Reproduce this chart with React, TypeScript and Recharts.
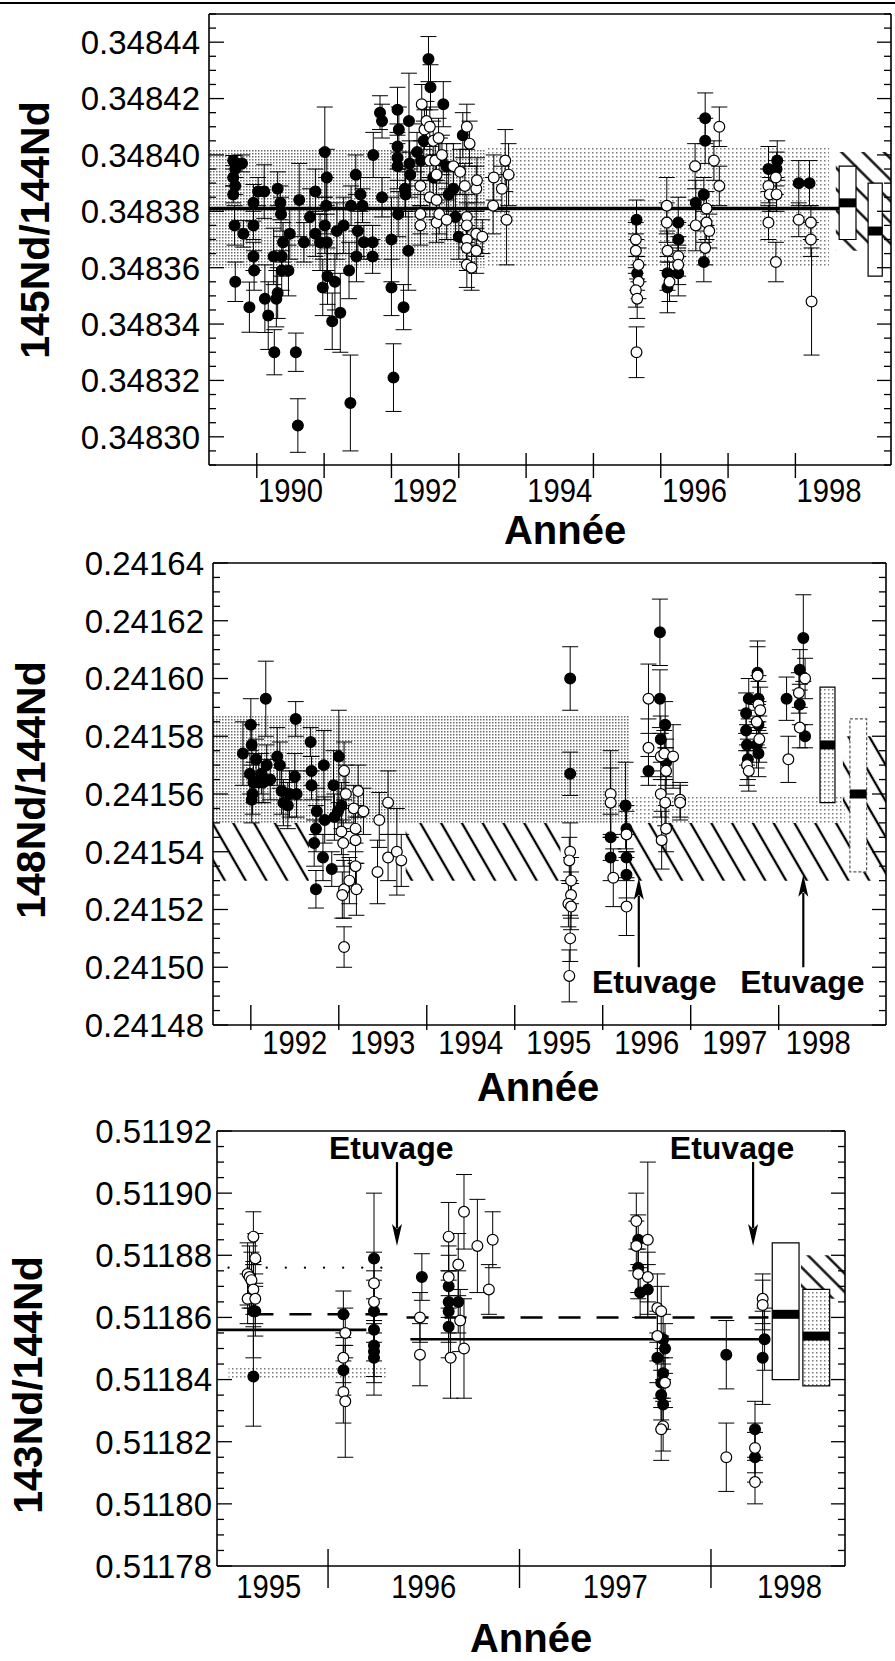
import React from "react";
import {
  ComposedChart,
  Scatter,
  ErrorBar,
  XAxis,
  YAxis,
  ReferenceArea,
  ReferenceLine,
  ReferenceDot,
} from "recharts";

const FONT = "'Liberation Sans', Arial, Helvetica, sans-serif";

type Pt = [number, number, number]; // [year, ratio, error]

// ---------- panel 1 : 145Nd/144Nd ----------
const p1Filled: Pt[] = [
  [1989.65, 0.348398, 0.0000018], [1989.68, 0.348395, 0.000003], [1989.65, 0.348392, 0.000003],
  [1989.68, 0.348389, 0.000003], [1989.65, 0.348386, 0.000003], [1989.78, 0.348397, 0.000003],
  [1989.67, 0.348375, 0.000007], [1989.68, 0.348355, 0.000007], [1989.8, 0.348372, 0.0000047],
  [1989.89, 0.348346, 0.0000089], [1989.95, 0.348383, 0.0000065], [1989.95, 0.348375, 0.000005],
  [1989.95, 0.348364, 0.000005], [1989.96, 0.348359, 0.000007], [1990.02, 0.348387, 0.000005],
  [1990.11, 0.348387, 0.0000095], [1990.12, 0.348349, 0.000012], [1990.17, 0.348343, 0.000012],
  [1990.25, 0.348364, 0.00001], [1990.26, 0.34833, 0.000008], [1990.29, 0.348349, 0.00001],
  [1990.31, 0.348351, 0.000009], [1990.31, 0.348388, 0.000006], [1990.35, 0.348383, 0.000006],
  [1990.36, 0.348379, 0.000006], [1990.39, 0.348369, 0.000007], [1990.37, 0.348364, 0.000007],
  [1990.37, 0.348359, 0.000007], [1990.47, 0.348359, 0.000009], [1990.49, 0.348372, 0.000009],
  [1990.58, 0.34833, 0.0000068], [1990.61, 0.348304, 0.0000095], [1990.63, 0.348384, 0.000013],
  [1990.7, 0.348369, 0.000007], [1990.79, 0.348378, 0.00001], [1990.87, 0.348387, 0.000008],
  [1990.87, 0.348372, 0.000008], [1990.94, 0.348369, 0.00001], [1990.98, 0.348353, 0.00001],
  [1991.01, 0.348401, 0.000016], [1991.04, 0.348392, 0.00001], [1991.03, 0.348382, 0.00001],
  [1991.01, 0.348375, 0.00001], [1991.04, 0.348369, 0.00001], [1991.05, 0.348357, 0.00001],
  [1991.12, 0.348341, 0.00001], [1991.16, 0.348355, 0.00001], [1991.19, 0.348373, 0.00001],
  [1991.24, 0.348344, 0.000014], [1991.29, 0.348375, 0.00001], [1991.37, 0.348359, 0.00001],
  [1991.39, 0.348312, 0.000017], [1991.4, 0.348382, 0.000007], [1991.47, 0.348393, 0.000007],
  [1991.48, 0.348364, 0.000009], [1991.5, 0.348373, 0.000009], [1991.54, 0.348386, 0.000006],
  [1991.57, 0.348382, 0.000006], [1991.59, 0.348369, 0.000006], [1991.72, 0.348369, 0.000006],
  [1991.72, 0.348364, 0.000006], [1991.73, 0.3484, 0.000008], [1991.86, 0.348385, 0.000007],
  [1991.83, 0.348415, 0.000006], [1991.86, 0.348412, 0.000006], [1992.0, 0.34837, 0.000015],
  [1992.0, 0.348353, 0.00001], [1992.03, 0.348321, 0.000012], [1992.09, 0.348416, 0.000008],
  [1992.11, 0.348409, 0.000008], [1992.09, 0.348403, 0.000008], [1992.09, 0.348399, 0.000008],
  [1992.09, 0.348396, 0.000008], [1992.1, 0.348379, 0.000008], [1992.18, 0.348346, 0.000008],
  [1992.25, 0.348366, 0.000014], [1992.26, 0.348412, 0.000017], [1992.27, 0.348397, 0.000008],
  [1992.28, 0.348393, 0.000008], [1992.2, 0.348388, 0.000008], [1992.21, 0.348386, 0.000008],
  [1992.38, 0.348401, 0.000007], [1992.44, 0.348398, 0.000007], [1992.48, 0.348405, 0.000007],
  [1992.55, 0.348434, 0.000008], [1992.58, 0.348424, 0.000008], [1992.77, 0.348418, 0.000008],
  [1992.62, 0.348392, 0.000008], [1992.72, 0.348398, 0.000008], [1992.82, 0.348396, 0.000008],
  [1992.85, 0.348386, 0.000008], [1992.95, 0.348378, 0.000008], [1993.0, 0.348371, 0.000008],
  [1993.06, 0.348407, 0.000008], [1992.92, 0.348388, 0.000008],
  [1995.64, 0.348377, 0.000007], [1995.65, 0.348358, 0.000006], [1996.1, 0.348358, 0.000006],
  [1996.1, 0.348353, 0.000009], [1996.26, 0.348376, 0.000009], [1996.26, 0.34837, 0.000006],
  [1996.26, 0.348358, 0.000008], [1996.52, 0.348383, 0.000008], [1996.66, 0.348413, 0.000009],
  [1996.66, 0.348405, 0.000008], [1996.64, 0.348386, 0.000006], [1996.64, 0.348362, 0.000007],
  [1997.6, 0.348395, 0.000008], [1997.73, 0.348398, 0.000007], [1997.72, 0.348395, 0.000006],
  [1998.05, 0.34839, 0.000008], [1998.21, 0.34839, 0.000008],
];
const p1Open: Pt[] = [
  [1992.43, 0.348389, 0.000007], [1992.45, 0.348418, 0.000007], [1992.49, 0.348409, 0.000007],
  [1992.52, 0.348412, 0.000007], [1992.57, 0.34841, 0.000007], [1992.62, 0.348405, 0.000007],
  [1992.7, 0.348406, 0.000007], [1992.57, 0.348398, 0.000007], [1992.65, 0.348398, 0.000007],
  [1992.67, 0.348393, 0.000007], [1992.75, 0.3484, 0.000007], [1992.43, 0.348379, 0.000007],
  [1992.43, 0.348375, 0.000007], [1992.57, 0.348385, 0.000007], [1992.67, 0.348384, 0.000007],
  [1992.67, 0.348376, 0.000007], [1992.71, 0.348379, 0.000007], [1992.82, 0.348377, 0.000007],
  [1992.92, 0.348396, 0.000008], [1993.02, 0.348394, 0.000008], [1993.12, 0.34841, 0.000008],
  [1993.16, 0.348404, 0.000008], [1993.09, 0.348389, 0.000008], [1993.12, 0.348378, 0.000008],
  [1993.12, 0.348375, 0.000008], [1993.12, 0.34837, 0.000008], [1993.12, 0.348367, 0.000008],
  [1993.26, 0.348372, 0.000008], [1993.26, 0.348366, 0.000008], [1993.12, 0.348361, 0.000008],
  [1993.19, 0.34836, 0.000008], [1993.26, 0.348388, 0.000008], [1993.27, 0.348391, 0.000008],
  [1993.35, 0.348371, 0.000006], [1993.52, 0.348392, 0.000008], [1993.51, 0.348382, 0.00001],
  [1993.64, 0.348388, 0.000008], [1993.69, 0.348398, 0.000011], [1993.74, 0.348393, 0.000011],
  [1993.71, 0.348377, 0.000016],
  [1995.63, 0.34837, 0.000006], [1995.63, 0.348366, 0.000006], [1995.67, 0.348361, 0.000006],
  [1995.67, 0.348355, 0.000006], [1995.63, 0.348352, 0.000006], [1995.65, 0.348349, 0.000007],
  [1995.64, 0.34833, 0.000009], [1996.09, 0.348382, 0.00001], [1996.09, 0.348376, 0.000007],
  [1996.1, 0.348366, 0.000007], [1996.13, 0.348355, 0.000007], [1996.26, 0.348364, 0.000007],
  [1996.26, 0.348361, 0.000007], [1996.51, 0.348396, 0.000008], [1996.52, 0.348375, 0.000009],
  [1996.68, 0.348381, 0.000006], [1996.68, 0.348376, 0.000006], [1996.72, 0.348373, 0.000006],
  [1996.66, 0.348367, 0.000006], [1996.79, 0.348398, 0.000007], [1996.87, 0.348389, 0.000007],
  [1996.87, 0.34841, 0.000007], [1997.6, 0.348389, 0.000006], [1997.62, 0.348386, 0.000006],
  [1997.71, 0.348392, 0.000006], [1997.72, 0.348386, 0.000006], [1997.6, 0.348376, 0.000006],
  [1997.71, 0.348362, 0.000007], [1998.05, 0.348377, 0.000006], [1998.23, 0.348376, 0.000006],
  [1998.23, 0.34837, 0.000006], [1998.24, 0.348348, 0.000019],
];
const p1Majors = [0.3483, 0.34832, 0.34834, 0.34836, 0.34838, 0.3484, 0.34842, 0.34844];
const p1Marks = [1990, 1991, 1992, 1993, 1994, 1995, 1996, 1997, 1998];
const p1Labels = [
  { text: "1990", at: 1990.5 }, { text: "1992", at: 1992.5 }, { text: "1994", at: 1994.5 },
  { text: "1996", at: 1996.5 }, { text: "1998", at: 1998.5 },
];
const p1Mean = { from: 1989.29, to: 1998.65, y: 0.348381 };
const p1Bands = [
  { x1: 1989.29, x2: 1993.4, y1: 0.34836, y2: 0.348402, dense: true },
  { x1: 1993.4, x2: 1998.5, y1: 0.34836, y2: 0.348403, dense: false },
];
const p1Hatch = [{ x1: 1998.6, x2: 1999.42, y1: 0.348366, y2: 0.348401 }];
const p1Boxes = [
  { x1: 1998.65, x2: 1998.9, y1: 0.34837, y2: 0.348396, mid: 0.348383, kind: "white" },
  { x1: 1999.08, x2: 1999.29, y1: 0.348357, y2: 0.34839, mid: 0.348373, kind: "white" },
];

// ---------- panel 2 : 148Nd/144Nd ----------
const p2Filled: Pt[] = [
  [1991.91, 0.241574, 0.000011], [1992.0, 0.241584, 0.000009], [1992.01, 0.241577, 0.000007],
  [1991.99, 0.241567, 0.000007], [1992.03, 0.241564, 0.000007], [1992.02, 0.24156, 0.000007],
  [1992.01, 0.241558, 0.000008], [1992.06, 0.241572, 0.000007], [1992.09, 0.241564, 0.000007],
  [1992.12, 0.241567, 0.000007], [1992.14, 0.241564, 0.000007], [1992.18, 0.24157, 0.000007],
  [1992.22, 0.241565, 0.000007], [1992.17, 0.241593, 0.000013], [1992.3, 0.241573, 0.00001],
  [1992.33, 0.24157, 0.000008], [1992.35, 0.241561, 0.000008], [1992.37, 0.241557, 0.000008],
  [1992.42, 0.241556, 0.000008], [1992.44, 0.24156, 0.000008], [1992.5, 0.241566, 0.000008],
  [1992.51, 0.241586, 0.000006], [1992.52, 0.24156, 0.000008], [1992.68, 0.241578, 0.000005],
  [1992.69, 0.241568, 0.000005], [1992.69, 0.241563, 0.000005], [1992.75, 0.241554, 0.000008],
  [1992.74, 0.241548, 0.000008], [1992.72, 0.241543, 0.000008], [1992.74, 0.241527, 0.0000065],
  [1992.83, 0.24157, 0.000012], [1992.82, 0.241538, 0.000008], [1992.84, 0.241551, 0.000008],
  [1992.92, 0.241534, 0.000006], [1992.94, 0.241563, 0.000012], [1992.95, 0.241552, 0.000008],
  [1993.0, 0.241573, 0.000016], [1992.99, 0.241554, 0.000008], [1993.03, 0.241556, 0.000008],
  [1995.63, 0.2416, 0.000011], [1995.63, 0.241567, 0.0000075], [1996.09, 0.241545, 0.000008],
  [1996.09, 0.241538, 0.000008], [1996.26, 0.241556, 0.000015], [1996.27, 0.241548, 0.000008],
  [1996.27, 0.241538, 0.000008], [1996.27, 0.241532, 0.000008], [1996.52, 0.241568, 0.000005],
  [1996.65, 0.241616, 0.0000115], [1996.65, 0.241593, 0.00001], [1996.66, 0.241579, 0.000008],
  [1996.71, 0.241584, 0.000008], [1996.72, 0.241571, 0.000008],
  [1997.63, 0.241588, 0.000007], [1997.66, 0.241593, 0.000007], [1997.63, 0.241582, 0.000007],
  [1997.64, 0.241577, 0.000007], [1997.65, 0.241572, 0.000007], [1997.76, 0.241602, 0.000011],
  [1997.77, 0.241593, 0.000008], [1997.77, 0.241584, 0.000008], [1997.75, 0.241577, 0.000008],
  [1997.77, 0.241574, 0.000008], [1998.09, 0.241593, 0.0000075], [1998.24, 0.241603, 0.000007],
  [1998.24, 0.241591, 0.000007], [1998.3, 0.24158, 0.000004], [1998.28, 0.241614, 0.000015],
];
const p2Open: Pt[] = [
  [1993.06, 0.241568, 0.00001], [1993.08, 0.24156, 0.00001], [1993.03, 0.241547, 0.000008],
  [1993.05, 0.241543, 0.000008], [1993.06, 0.241527, 0.00001], [1993.04, 0.241525, 0.000008],
  [1993.12, 0.24153, 0.000008], [1993.17, 0.241555, 0.000008], [1993.19, 0.241548, 0.000008],
  [1993.19, 0.241544, 0.000008], [1993.19, 0.241535, 0.000008], [1993.2, 0.241527, 0.000009],
  [1993.22, 0.241561, 0.000009], [1993.28, 0.241554, 0.000008], [1993.46, 0.241551, 0.0000095],
  [1993.44, 0.241533, 0.000011], [1993.56, 0.241557, 0.000011], [1993.56, 0.241538, 0.000008],
  [1993.66, 0.24154, 0.000015], [1993.71, 0.241537, 0.000009], [1993.06, 0.241507, 0.000007],
  [1995.63, 0.24154, 0.00001], [1995.62, 0.241537, 0.000008], [1995.64, 0.24153, 0.000008],
  [1995.64, 0.241525, 0.000008], [1995.61, 0.241522, 0.000008], [1995.64, 0.241521, 0.000008],
  [1995.63, 0.24151, 0.000008], [1995.62, 0.241497, 0.000009], [1996.09, 0.24156, 0.000015],
  [1996.09, 0.241557, 0.000012], [1996.12, 0.241531, 0.00001], [1996.27, 0.241546, 0.000008],
  [1996.27, 0.241521, 0.00001], [1996.52, 0.241593, 0.000012], [1996.52, 0.241576, 0.00001],
  [1996.66, 0.241573, 0.000008], [1996.7, 0.241574, 0.000008], [1996.72, 0.241568, 0.000008],
  [1996.66, 0.24156, 0.000008], [1996.71, 0.241557, 0.000008], [1996.72, 0.241548, 0.000008],
  [1996.67, 0.241544, 0.00001], [1996.8, 0.241573, 0.000011], [1996.88, 0.241558, 0.000006],
  [1996.88, 0.241557, 0.000006], [1997.64, 0.24157, 0.000007], [1997.66, 0.241568, 0.000007],
  [1997.76, 0.241601, 0.00001], [1997.77, 0.241591, 0.000008], [1997.79, 0.241589, 0.000008],
  [1997.75, 0.241585, 0.000008], [1997.78, 0.241579, 0.000008], [1998.11, 0.241572, 0.000008],
  [1998.23, 0.241595, 0.000007], [1998.3, 0.2416, 0.000007], [1998.24, 0.241583, 0.000007],
];
const p2Majors = [0.24148, 0.2415, 0.24152, 0.24154, 0.24156, 0.24158, 0.2416, 0.24162, 0.24164];
const p2Marks = [1992, 1993, 1994, 1995, 1996, 1997, 1998];
const p2Labels = [
  { text: "1992", at: 1992.5 }, { text: "1993", at: 1993.5 }, { text: "1994", at: 1994.5 },
  { text: "1995", at: 1995.5 }, { text: "1996", at: 1996.5 }, { text: "1997", at: 1997.5 },
  { text: "1998", at: 1998.45 },
];
const p2Bands = [
  { x1: 1991.57, x2: 1996.3, y1: 0.24155, y2: 0.241587, dense: true },
  { x1: 1996.3, x2: 1998.75, y1: 0.24155, y2: 0.241559, dense: false },
];
const p2Hatch = [
  { x1: 1991.57, x2: 1992.66, y1: 0.24153, y2: 0.24155 },
  { x1: 1993.76, x2: 1995.52, y1: 0.24153, y2: 0.24155 },
  { x1: 1996.3, x2: 1999.22, y1: 0.24153, y2: 0.24155 },
  { x1: 1998.73, x2: 1999.22, y1: 0.24155, y2: 0.24158 },
];
const p2Boxes = [
  { x1: 1998.47, x2: 1998.64, y1: 0.241557, y2: 0.241597, mid: 0.241577, kind: "stipple" },
  { x1: 1998.81, x2: 1999.0, y1: 0.241533, y2: 0.241586, mid: 0.24156, kind: "dashed" },
];
const p2Arrows = [
  { x: 1996.41, tail: 0.2415, tip: 0.241531 },
  { x: 1998.28, tail: 0.2415, tip: 0.241532 },
];
const p2Notes = [
  { x: 1996.585, y: 0.241491, text: "Etuvage" },
  { x: 1998.27, y: 0.241491, text: "Etuvage" },
];

// ---------- panel 3 : 143Nd/144Nd ----------
const p3Filled: Pt[] = [
  [1995.61, 0.511862, 0.000015], [1995.62, 0.511862, 0.000008], [1995.61, 0.511841, 0.000016],
  [1996.08, 0.511861, 0.0000075], [1996.08, 0.511843, 0.000008], [1996.24, 0.511879, 0.000021],
  [1996.24, 0.511862, 0.00001], [1996.24, 0.511856, 0.00001], [1996.24, 0.511851, 0.00001],
  [1996.24, 0.511849, 0.00001], [1996.24, 0.511847, 0.000012], [1996.49, 0.511873, 0.0000075],
  [1996.63, 0.51187, 0.00001], [1996.63, 0.511865, 0.00001], [1996.63, 0.511862, 0.00001],
  [1996.63, 0.511857, 0.00001], [1996.68, 0.511865, 0.00001],
  [1997.62, 0.511885, 0.000008], [1997.62, 0.511876, 0.000008], [1997.63, 0.511868, 0.000008],
  [1997.67, 0.511869, 0.000008], [1997.75, 0.511853, 0.000008], [1997.76, 0.51185, 0.000008],
  [1997.72, 0.511847, 0.000008], [1997.75, 0.511842, 0.000008], [1997.74, 0.511839, 0.000008],
  [1997.74, 0.511835, 0.000008], [1997.75, 0.511832, 0.000008], [1998.08, 0.511848, 0.000011],
  [1998.23, 0.511824, 0.000009], [1998.23, 0.511815, 0.000008], [1998.28, 0.511853, 0.00001],
  [1998.27, 0.511847, 0.000015],
];
const p3Open: Pt[] = [
  [1995.58, 0.511874, 0.00001], [1995.59, 0.511873, 0.00001], [1995.6, 0.511872, 0.000009],
  [1995.58, 0.511866, 0.000008], [1995.61, 0.511886, 0.000008], [1995.62, 0.511879, 0.000008],
  [1995.61, 0.511869, 0.000008], [1995.62, 0.511866, 0.000008], [1996.09, 0.511855, 0.000008],
  [1996.08, 0.511847, 0.000008], [1996.08, 0.511836, 0.00001], [1996.09, 0.511833, 0.000018],
  [1996.24, 0.511871, 0.00001], [1996.24, 0.511865, 0.00001], [1996.48, 0.51186, 0.000008],
  [1996.48, 0.511848, 0.00001], [1996.63, 0.511886, 0.000011], [1996.63, 0.511873, 0.00001],
  [1996.64, 0.511847, 0.000013], [1996.68, 0.511877, 0.00001], [1996.69, 0.511859, 0.00001],
  [1996.71, 0.511894, 0.000012], [1996.71, 0.51185, 0.000016], [1996.78, 0.511883, 0.000015],
  [1996.86, 0.511885, 0.000009], [1996.84, 0.511869, 0.000008],
  [1997.61, 0.511891, 0.000009], [1997.61, 0.511883, 0.000008], [1997.62, 0.511874, 0.000008],
  [1997.67, 0.511873, 0.000008], [1997.67, 0.511885, 0.000025], [1997.72, 0.511863, 0.000011],
  [1997.74, 0.511862, 0.000008], [1997.72, 0.511854, 0.000008], [1997.76, 0.511839, 0.000008],
  [1997.75, 0.511825, 0.000008], [1997.74, 0.511824, 0.00001], [1998.08, 0.511815, 0.000011],
  [1998.23, 0.511818, 0.000008], [1998.23, 0.511807, 0.000007], [1998.27, 0.511866, 0.000008],
  [1998.27, 0.511864, 0.000008],
];
const p3Majors = [0.51178, 0.5118, 0.51182, 0.51184, 0.51186, 0.51188, 0.5119, 0.51192];
const p3Marks = [1996, 1997, 1998];
const p3Labels = [
  { text: "1995", at: 1995.69 }, { text: "1996", at: 1996.5 },
  { text: "1997", at: 1997.5 }, { text: "1998", at: 1998.41 },
];
const p3Solid = [
  { from: 1995.42, to: 1996.2, y: 0.511856 },
  { from: 1996.43, to: 1998.29, y: 0.511853 },
];
const p3Dashed = [
  { from: 1995.6, to: 1996.36, y: 0.511861 },
  { from: 1996.41, to: 1998.3, y: 0.51186 },
];
const p3Dotted = [{ from: 1995.48, to: 1996.33, y: 0.511876 }];
const p3Bands = [{ x1: 1995.48, x2: 1996.31, y1: 0.51184, y2: 0.511844, dense: false }];
const p3Hatch = [{ x1: 1998.47, x2: 1998.7, y1: 0.511866, y2: 0.51188 }];
const p3Boxes = [
  { x1: 1998.32, x2: 1998.46, y1: 0.51184, y2: 0.511884, mid: 0.511861, kind: "white" },
  { x1: 1998.48, x2: 1998.62, y1: 0.511838, y2: 0.511869, mid: 0.511854, kind: "stipple" },
];
const p3Arrows = [
  { x: 1996.36, tail: 0.51191, tip: 0.511883 },
  { x: 1998.22, tail: 0.51191, tip: 0.511883 },
];
const p3Notes = [
  { x: 1996.33, y: 0.511911, text: "Etuvage" },
  { x: 1998.11, y: 0.511911, text: "Etuvage" },
];

// ---------- drawing helpers ----------
const W = 895;

function makeYTicks(domain: [number, number], majors: number[]) {
  const step = (majors[1] - majors[0]) / 4;
  const n = Math.round((domain[1] - domain[0]) / step);
  return Array.from({ length: n + 1 }, (_, i) => Number((domain[0] + i * step).toFixed(9)));
}
const isMajor = (v: number, majors: number[]) => majors.some((m) => Math.abs(m - v) < 1e-9);

const dot = (filled: boolean) => (p: any) => (
  <circle cx={p.cx} cy={p.cy} r={5.4} fill={filled ? "#000" : "#fff"} stroke="#000" strokeWidth={1.2} />
);

const arrowShape = (up: boolean) => (p: any) => {
  const x = p.x1;
  const top = Math.min(p.y1, p.y2);
  const bot = Math.max(p.y1, p.y2);
  const head = 22;
  const half = 5;
  if (up) {
    return (
      <g>
        <line x1={x} x2={x} y1={top + head - 4} y2={bot} stroke="#000" strokeWidth={2.2} />
        <polygon points={`${x},${top} ${x - half},${top + head} ${x},${top + head - 5} ${x + half},${top + head}`} fill="#000" />
      </g>
    );
  }
  return (
    <g>
      <line x1={x} x2={x} y1={top} y2={bot - head + 4} stroke="#000" strokeWidth={2.2} />
      <polygon points={`${x},${bot} ${x - half},${bot - head} ${x},${bot - head + 5} ${x + half},${bot - head}`} fill="#000" />
    </g>
  );
};

const noteShape = (text: string) => (p: any) => (
  <text x={p.cx} y={p.cy} textAnchor="middle" fontFamily={FONT} fontWeight="bold" fontSize={32} fill="#000">
    {text}
  </text>
);

interface Cfg {
  id: string;
  top: number;
  height: number;
  plot: { top: number; right: number; bottom: number; left: number };
  xDomain: [number, number];
  yDomain: [number, number];
  majors: number[];
  marks: number[];
  labels: { text: string; at: number }[];
  markUp: number;
  markDown: number;
  labelDy: number;
  labelGap: number;
  hatchRot: number;
  hatchGap: number;
  filled: Pt[];
  open: Pt[];
  title: string;
  titlePos: [number, number];
  anneePos: [number, number];
  bands: { x1: number; x2: number; y1: number; y2: number; dense: boolean }[];
  hatch: { x1: number; x2: number; y1: number; y2: number }[];
  boxes: { x1: number; x2: number; y1: number; y2: number; mid: number; kind: string }[];
  lines: { from: number; to: number; y: number; width: number; dash?: string; cap?: "round" | "butt" }[];
  arrows: { x: number; tail: number; tip: number }[];
  arrowsUp: boolean;
  notes: { x: number; y: number; text: string }[];
}

function Panel({ cfg }: { cfg: Cfg }) {
  const yTicks = makeYTicks(cfg.yDomain, cfg.majors);
  const xTicks = [...cfg.marks, ...cfg.labels.map((l) => l.at)];
  const toPts = (a: Pt[]) => a.map(([x, y, e]) => ({ x, y, e }));
  const hatchId = `hatch-${cfg.id}`;
  const stipId = `stip-${cfg.id}`;
  const stipLId = `stipl-${cfg.id}`;
  // each axis takes 1px, so margins are the plot edges minus that pixel
  const margin = {
    top: cfg.plot.top - 1,
    right: cfg.plot.right - 1,
    bottom: cfg.plot.bottom - 1,
    left: cfg.plot.left - 1,
  };

  const leftTick = (p: any) => {
    const v = p.payload.value;
    const major = isMajor(v, cfg.majors);
    return (
      <g>
        <line x1={p.x} x2={p.x + (major ? 15 : 7)} y1={p.y} y2={p.y} stroke="#000" strokeWidth={1.3} />
        {major && (
          <text x={p.x - cfg.labelGap} y={p.y} dy="0.36em" textAnchor="end" fontFamily={FONT} fontSize={33} fill="#000">
            {v.toFixed(5)}
          </text>
        )}
      </g>
    );
  };
  const rightTick = (p: any) => {
    const major = isMajor(p.payload.value, cfg.majors);
    return <line x1={p.x - (major ? 14 : 7)} x2={p.x} y1={p.y} y2={p.y} stroke="#000" strokeWidth={1.3} />;
  };
  const bottomTick = (p: any) => {
    const v = p.payload.value;
    const lab = cfg.labels.find((l) => Math.abs(l.at - v) < 1e-6);
    if (lab) {
      return (
        <text x={p.x} y={p.y + cfg.labelDy} textAnchor="middle" fontFamily={FONT} fontSize={34}
          textLength={65} lengthAdjust="spacingAndGlyphs" fill="#000">
          {lab.text}
        </text>
      );
    }
    return <line x1={p.x} x2={p.x} y1={p.y - cfg.markUp} y2={p.y + cfg.markDown} stroke="#000" strokeWidth={1.4} />;
  };

  const boxFill = (kind: string) => (kind === "stipple" ? `url(#${stipLId})` : "#fff");

  return (
    <div style={{ position: "absolute", left: 0, top: cfg.top, width: W, height: cfg.height }}>
      <ComposedChart width={W} height={cfg.height} margin={margin}>
        <defs>
          <pattern id={hatchId} width={cfg.hatchGap} height={cfg.hatchGap} patternUnits="userSpaceOnUse" patternTransform={`rotate(${cfg.hatchRot})`}>
            <line x1={cfg.hatchGap / 2} y1={0} x2={cfg.hatchGap / 2} y2={cfg.hatchGap} stroke="#000" strokeWidth={2.3} />
          </pattern>
          <pattern id={stipId} width={3} height={3} patternUnits="userSpaceOnUse">
            <rect x={0} y={0} width={3} height={3} fill="#fff" />
            <rect x={0} y={0} width={1.5} height={1.5} fill="#6a6a6a" />
          </pattern>
          <pattern id={stipLId} width={4} height={4} patternUnits="userSpaceOnUse">
            <rect x={0} y={0} width={4} height={4} fill="#fff" />
            <rect x={0} y={0} width={1.5} height={1.5} fill="#7a7a7a" />
          </pattern>
        </defs>
        <XAxis
          dataKey="x"
          type="number"
          domain={cfg.xDomain}
          allowDataOverflow
          ticks={xTicks}
          interval={0}
          height={1}
          tickSize={0}
          tickMargin={0}
          tickLine={false}
          tick={bottomTick}
          axisLine={{ stroke: "#000", strokeWidth: 1.6 }}
        />
        <XAxis
          xAxisId="top"
          orientation="top"
          type="number"
          domain={cfg.xDomain}
          allowDataOverflow
          height={1}
          tick={false}
          tickLine={false}
          axisLine={{ stroke: "#000", strokeWidth: 1.6 }}
        />
        <YAxis
          dataKey="y"
          type="number"
          domain={cfg.yDomain}
          allowDataOverflow
          ticks={yTicks}
          interval={0}
          width={1}
          tickSize={0}
          tickMargin={0}
          tickLine={false}
          tick={leftTick}
          axisLine={{ stroke: "#000", strokeWidth: 1.6 }}
        />
        <YAxis
          yAxisId="r"
          orientation="right"
          type="number"
          domain={cfg.yDomain}
          allowDataOverflow
          ticks={yTicks}
          interval={0}
          width={1}
          tickSize={0}
          tickMargin={0}
          tickLine={false}
          tick={rightTick}
          axisLine={{ stroke: "#000", strokeWidth: 1.6 }}
        />

        {cfg.bands.map((b, i) => (
          <ReferenceArea key={`band${i}`} x1={b.x1} x2={b.x2} y1={b.y1} y2={b.y2} ifOverflow="hidden"
            fill={`url(#${b.dense ? stipId : stipLId})`} fillOpacity={1} stroke="none" />
        ))}
        {cfg.hatch.map((h, i) => (
          <ReferenceArea key={`hatch${i}`} x1={h.x1} x2={h.x2} y1={h.y1} y2={h.y2} ifOverflow="hidden"
            fill={`url(#${hatchId})`} fillOpacity={1} stroke="none" />
        ))}
        {cfg.boxes.map((b, i) => (
          <ReferenceArea key={`box${i}`} x1={b.x1} x2={b.x2} y1={b.y1} y2={b.y2} ifOverflow="hidden"
            fill={boxFill(b.kind)} fillOpacity={1}
            stroke={b.kind === "dashed" ? "#555" : "#000"} strokeWidth={1.2}
            strokeDasharray={b.kind === "dashed" ? "3 2" : undefined} />
        ))}
        {cfg.boxes.map((b, i) => (
          <ReferenceLine key={`mid${i}`} segment={[{ x: b.x1, y: b.mid }, { x: b.x2, y: b.mid }]}
            stroke="#000" strokeWidth={9} ifOverflow="hidden" />
        ))}
        {cfg.lines.map((l, i) => (
          <ReferenceLine key={`line${i}`} segment={[{ x: l.from, y: l.y }, { x: l.to, y: l.y }]}
            stroke="#000" strokeWidth={l.width} strokeDasharray={l.dash} strokeLinecap={l.cap ?? "butt"} ifOverflow="hidden" />
        ))}
        {cfg.arrows.map((a, i) => (
          <ReferenceLine key={`arrow${i}`} segment={[{ x: a.x, y: a.tail }, { x: a.x, y: a.tip }]}
            shape={arrowShape(cfg.arrowsUp)} ifOverflow="visible" />
        ))}

        <Scatter data={toPts(cfg.filled)} dataKey="y" isAnimationActive={false} shape={dot(true)}>
          <ErrorBar dataKey="e" direction="y" width={8} stroke="#000" strokeWidth={1} />
        </Scatter>
        <Scatter data={toPts(cfg.open)} dataKey="y" isAnimationActive={false} shape={dot(false)}>
          <ErrorBar dataKey="e" direction="y" width={8} stroke="#000" strokeWidth={1} />
        </Scatter>

        {cfg.notes.map((n, i) => (
          <ReferenceDot key={`note${i}`} x={n.x} y={n.y} r={0} ifOverflow="visible" shape={noteShape(n.text)} />
        ))}
      </ComposedChart>
      <div
        style={{
          position: "absolute",
          left: cfg.titlePos[0],
          top: cfg.titlePos[1] - cfg.top,
          transform: "translate(-50%, -50%) rotate(-90deg)",
          whiteSpace: "nowrap",
          fontFamily: FONT,
          fontWeight: "bold",
          fontSize: 41,
          lineHeight: 1,
          color: "#000",
        }}
      >
        {cfg.title}
      </div>
      <div
        style={{
          position: "absolute",
          left: cfg.anneePos[0],
          top: cfg.anneePos[1] - cfg.top,
          transform: "translate(-50%, -50%)",
          whiteSpace: "nowrap",
          fontFamily: FONT,
          fontWeight: "bold",
          fontSize: 40,
          lineHeight: 1,
          color: "#000",
        }}
      >
        Année
      </div>
    </div>
  );
}

const panel1: Cfg = {
  id: "p1", top: 0, height: 545,
  plot: { top: 14, right: 4, bottom: 80, left: 209 },
  xDomain: [1989.29, 1999.42], yDomain: [0.34829, 0.34845],
  majors: p1Majors, marks: p1Marks, labels: p1Labels,
  markUp: 12, markDown: 13, labelDy: 37, labelGap: 9,
  hatchRot: -45, hatchGap: 15,
  filled: p1Filled, open: p1Open,
  title: "145Nd/144Nd", titlePos: [35, 230], anneePos: [565, 530],
  bands: p1Bands, hatch: p1Hatch, boxes: p1Boxes,
  lines: [{ from: p1Mean.from, to: p1Mean.to, y: p1Mean.y, width: 3.5 }],
  arrows: [], arrowsUp: true, notes: [],
};

const panel2: Cfg = {
  id: "p2", top: 545, height: 555,
  plot: { top: 18, right: 9, bottom: 75, left: 213 },
  xDomain: [1991.57, 1999.22], yDomain: [0.24148, 0.24164],
  majors: p2Majors, marks: p2Marks, labels: p2Labels,
  markUp: 20, markDown: 5, labelDy: 29, labelGap: 9,
  hatchRot: -30, hatchGap: 18,
  filled: p2Filled, open: p2Open,
  title: "148Nd/144Nd", titlePos: [31, 790], anneePos: [538, 1087],
  bands: p2Bands, hatch: p2Hatch, boxes: p2Boxes,
  lines: [],
  arrows: p2Arrows, arrowsUp: true, notes: p2Notes,
};

const panel3: Cfg = {
  id: "p3", top: 1100, height: 561,
  plot: { top: 31, right: 50, bottom: 95, left: 217 },
  xDomain: [1995.42, 1998.7], yDomain: [0.51178, 0.51192],
  majors: p3Majors, marks: p3Marks, labels: p3Labels,
  markUp: 17, markDown: 22, labelDy: 32, labelGap: 5,
  hatchRot: -45, hatchGap: 13,
  filled: p3Filled, open: p3Open,
  title: "143Nd/144Nd", titlePos: [28, 1385], anneePos: [531, 1638],
  bands: p3Bands, hatch: p3Hatch, boxes: p3Boxes,
  lines: [
    ...p3Dotted.map((l) => ({ ...l, width: 2.2, dash: "0.1 19", cap: "round" as const })),
    ...p3Dashed.map((l) => ({ ...l, width: 2.6, dash: "22 16" })),
    ...p3Solid.map((l) => ({ ...l, width: 2.6 })),
  ],
  arrows: p3Arrows, arrowsUp: false, notes: p3Notes,
};

export default function App() {
  return (
    <div style={{ position: "absolute", left: 0, top: 0, width: W, height: 1661, background: "#fff", overflow: "hidden" }}>
      <div style={{ position: "absolute", left: 0, top: 2, width: W, height: 2, background: "#000" }} />
      <Panel cfg={panel1} />
      <Panel cfg={panel2} />
      <Panel cfg={panel3} />
    </div>
  );
}
